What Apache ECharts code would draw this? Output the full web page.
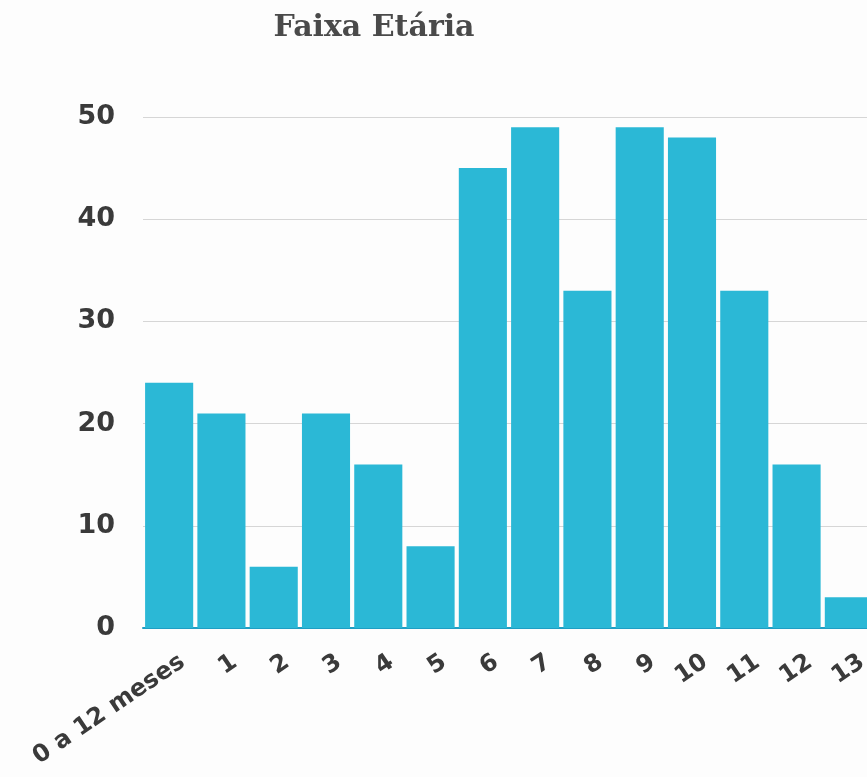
<!DOCTYPE html>
<html>
<head>
<meta charset="utf-8">
<script src="https://cdn.jsdelivr.net/npm/echarts@6/dist/echarts.min.js"></script>
<style>
  html, body { margin: 0; padding: 0; background: #fdfdfd; overflow: hidden; }
  #main { width: 875px; height: 777px; }
</style>
</head>
<body>
<div id="main"></div>
<script>
// faixa etaria - contagem por idade
var categorias = ['0 a 12 meses', '1', '2', '3', '4', '5', '6', '7', '8', '9', '10', '11', '12', '13'];
var valores = [24, 21, 6, 21, 16, 8, 45, 49, 33, 49, 48, 33, 16, 3];
var yTicks = [0, 10, 20, 30, 40, 50];

// the last bar is cut by the right edge, so the canvas is a bit wider than the window
var chart = echarts.init(document.getElementById('main'), null, {
  width: 875,
  height: 777
});

var option = {
  backgroundColor: '#fdfdfd',
  title: {
    text: 'Faixa Etária',
    left: 369,
    textAlign: 'center',
    top: 8,
    textStyle: {
      fontFamily: 'DejaVu Serif',
      fontSize: 30,
      fontWeight: 'bold',
      color: '#4a4a4a'
    }
  },
  grid: {
    left: 143,
    right: 0,
    top: 117,
    bottom: 149,
    containLabel: false
  },
  xAxis: {
    type: 'category',
    data: categorias,
    axisTick: { show: false },
    axisLine: {
      lineStyle: { color: '#1f9ec4', width: 2 }
    },
    axisLabel: {
      interval: 0,
      rotate: 34,
      margin: 12,
      verticalAlign: 'top',
      padding: [12, 0, 0, 0],
      fontFamily: 'DejaVu Sans',
      fontWeight: 'bold',
      fontSize: 24,
      color: '#3a3a3a'
    }
  },
  yAxis: {
    type: 'value',
    min: yTicks[0],
    max: yTicks[yTicks.length - 1],
    interval: 10,
    axisLine: { show: false },
    axisTick: { show: false },
    splitLine: {
      lineStyle: { color: '#d6d6d6', width: 1 }
    },
    axisLabel: {
      margin: 28,
      fontFamily: 'DejaVu Sans',
      fontWeight: 'bold',
      fontSize: 27,
      color: '#3a3a3a'
    }
  },
  series: [{
    type: 'bar',
    data: valores,
    barCategoryGap: '8%',
    itemStyle: {
      color: '#2bb8d6'
    }
  }]
};

chart.setOption(option);
</script>
</body>
</html>
